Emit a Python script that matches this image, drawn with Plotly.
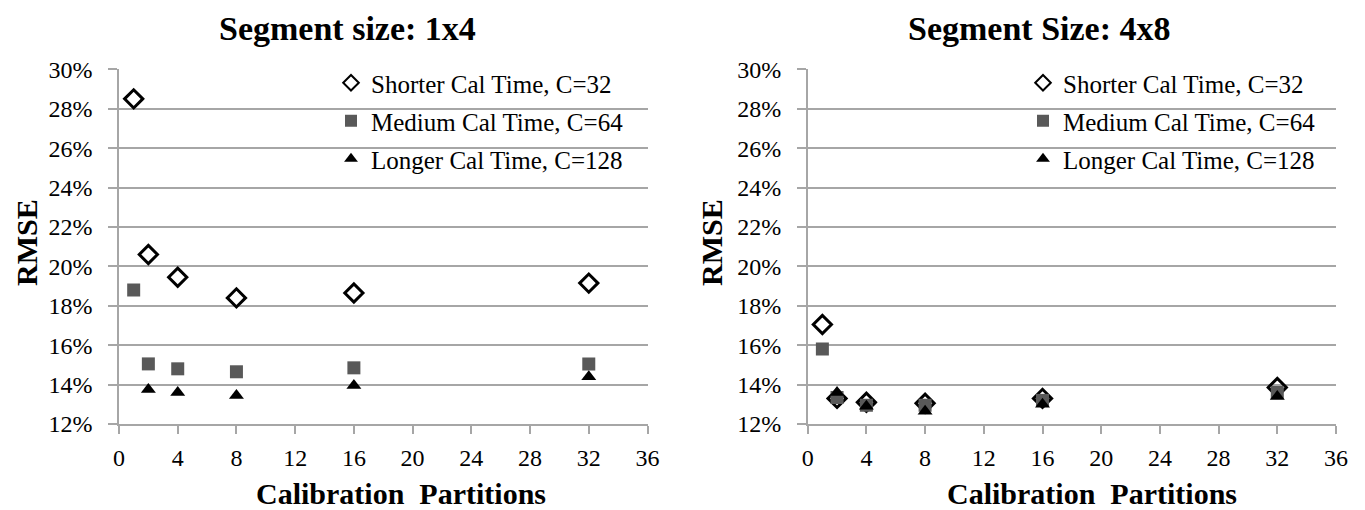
import plotly.graph_objects as go

# ---- data (RMSE as fractions) ----
partitions = [1, 2, 4, 8, 16, 32]

left_shorter = [0.285, 0.206, 0.1945, 0.184, 0.1865, 0.1915]
left_medium = [0.188, 0.1505, 0.148, 0.1465, 0.1485, 0.1505]
left_longer_x = [2, 4, 8, 16, 32]
left_longer = [0.1375, 0.136, 0.1345, 0.1395, 0.144]

right_shorter = [0.1705, 0.133, 0.131, 0.1305, 0.133, 0.1385]
right_medium = [0.158, 0.1335, 0.1295, 0.1295, 0.132, 0.136]
right_longer_x = [2, 4, 8, 16, 32]
right_longer = [0.136, 0.129, 0.1265, 0.130, 0.134]

series_names = ["Shorter Cal Time, C=32", "Medium Cal Time, C=64", "Longer Cal Time, C=128"]
panel_titles = ["Segment size: 1x4", "Segment Size: 4x8"]
y_ticks = [0.12, 0.14, 0.16, 0.18, 0.20, 0.22, 0.24, 0.26, 0.28, 0.30]
x_ticks = [0, 4, 8, 12, 16, 20, 24, 28, 32, 36]

FONT = "Liberation Serif"
GRID = "#a6a6a6"
SQUARE = "#595959"

fig = go.Figure()

def add_panel(xa, ya, legend, sx, sy, mx, my, lx, ly):
    fig.add_trace(go.Scatter(
        x=sx, y=sy, mode="markers", name=series_names[0], xaxis=xa, yaxis=ya,
        legend=legend, legendgroup=legend + "a",
        marker=dict(symbol="diamond-open", size=14, color="black",
                    line=dict(width=3, color="black"))))
    fig.add_trace(go.Scatter(
        x=mx, y=my, mode="markers", name=series_names[1], xaxis=xa, yaxis=ya,
        legend=legend, legendgroup=legend + "b",
        marker=dict(symbol="square", size=13, color=SQUARE)))
    fig.add_trace(go.Scatter(
        x=lx, y=ly, mode="markers", name=series_names[2], xaxis=xa, yaxis=ya,
        legend=legend, legendgroup=legend + "c",
        marker=dict(symbol="triangle-up", size=13, color="black")))

add_panel("x", "y", "legend", partitions, left_shorter, partitions, left_medium,
          left_longer_x, left_longer)
add_panel("x2", "y2", "legend2", partitions, right_shorter, partitions, right_medium,
          right_longer_x, right_longer)

W, H = 1365, 510
OFF = 8  # page offset of the figure (body margin)

def fx(px):
    return (px - OFF) / W

def fy(py):
    return 1 - (py - OFF) / H

ydom = [fy(424), fy(69.3)]

xaxis_common = dict(range=[0, 36], tickvals=x_ticks, showgrid=False, zeroline=False,
                    showline=True, linecolor=GRID, linewidth=1.5, automargin=False,
                    ticks="outside", ticklen=8, tickcolor=GRID, tickwidth=1.5,
                    ticklabelstandoff=3,
                    tickfont=dict(family=FONT, size=24, color="black"))
yaxis_common = dict(range=[0.12, 0.30], tickvals=y_ticks, tickformat=".0%",
                    showgrid=True, gridcolor=GRID, gridwidth=1.5, zeroline=False,
                    showline=True, linecolor=GRID, linewidth=1.5, automargin=False,
                    ticks="outside", ticklen=9, tickcolor=GRID, tickwidth=1.5,
                    ticklabelstandoff=11,
                    tickfont=dict(family=FONT, size=24, color="black"))

legend_common = dict(font=dict(family=FONT, size=25, color="black"),
                     bgcolor="rgba(0,0,0,0)", borderwidth=0,
                     traceorder="grouped", tracegroupgap=2.5,
                     xanchor="left", yanchor="top", itemsizing="constant")

fig.update_layout(
    width=W, height=H,
    margin=dict(l=0, r=0, t=0, b=0, autoexpand=False),
    paper_bgcolor="white", plot_bgcolor="white",
    showlegend=True,
    xaxis=dict(domain=[fx(119), fx(647.5)], anchor="y", **xaxis_common),
    yaxis=dict(domain=ydom, anchor="x", **yaxis_common),
    xaxis2=dict(domain=[fx(807.7), fx(1336)], anchor="y2", **xaxis_common),
    yaxis2=dict(domain=ydom, anchor="x2", **yaxis_common),
    legend=dict(x=fx(331), y=fy(60), **legend_common),
    legend2=dict(x=fx(1023), y=fy(60), **legend_common),
)

for txt, cx in zip(panel_titles, [347, 1039]):
    fig.add_annotation(text=f"<b>{txt}</b>", xref="paper", yref="paper",
                       x=fx(cx), y=1, showarrow=False,
                       xanchor="center", yanchor="top",
                       font=dict(family=FONT, size=34, color="black"))

for cx in [401, 1092]:
    fig.add_annotation(text="<b>Calibration  Partitions</b>", xref="paper", yref="paper",
                       x=fx(cx), y=fy(493), showarrow=False,
                       xanchor="center", yanchor="middle",
                       font=dict(family=FONT, size=30, color="black"))
for cx in [27, 712]:
    fig.add_annotation(text="<b>RMSE</b>", xref="paper", yref="paper",
                       x=fx(cx), y=fy(243), showarrow=False, textangle=-90,
                       xanchor="center", yanchor="middle",
                       font=dict(family=FONT, size=30, color="black"))

fig.write_html("out.html")
